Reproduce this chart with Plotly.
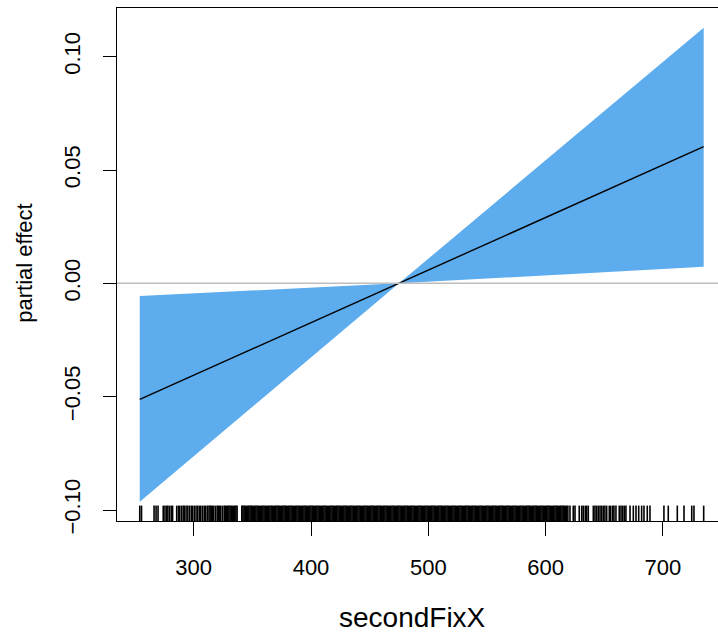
import plotly.graph_objects as go

# Linear smooth term for secondFixX: fitted partial effect and its confidence band
x_fit = [254.0, 475.0, 734.8]
fit = [-0.0512, 0.0, 0.0603]
upper = [-0.0056, 0.0, 0.1128]
lower = [-0.0964, 0.0, 0.0073]

# Axis settings
x_ticks = [300, 400, 500, 600, 700]
y_ticks = [-0.10, -0.05, 0.00, 0.05, 0.10]
y_tick_text = ["\u22120.10", "\u22120.05", "0.00", "0.05", "0.10"]
x_range = [234.6, 747.0]
y_range = [-0.10485, 0.12148]

# Observed secondFixX values shown as a rug along the x axis
rug_left = [
    254.0, 255.5, 266.2, 267.9, 269.6, 274.0, 275.5, 277.0, 278.0, 279.5,
    281.0, 282.0, 285.5, 287.0, 288.0, 289.5, 291.0, 292.0, 293.5, 295.0,
    296.5, 298.0, 299.0, 300.5, 302.0, 303.5, 305.0, 306.0, 307.5, 309.0,
    310.0, 311.5, 313.0, 314.0, 315.0, 316.0, 317.0, 318.5, 320.0, 321.0,
    322.0, 323.0, 324.5, 326.0, 327.0, 328.0, 329.0, 330.0, 331.0, 332.0,
    333.0, 334.0, 335.0, 336.0, 337.0,
]
rug_dense = [
    341, 342, 343, 344, 345, 346, 347, 348, 349, 350, 351, 352, 353, 354, 355,
    356, 357, 358, 359, 360, 361, 362, 363, 364, 365, 366, 367, 368, 369, 370,
    371, 372, 373, 374, 375, 376, 377, 378, 379, 380, 381, 382, 383, 384, 385,
    386, 387, 388, 389, 390, 391, 392, 393, 394, 395, 396, 397, 398, 399, 400,
    401, 402, 403, 404, 405, 406, 407, 408, 409, 410, 411, 412, 413, 414, 415,
    416, 417, 418, 419, 420, 421, 422, 423, 424, 425, 426, 427, 428, 429, 430,
    431, 432, 433, 434, 435, 436, 437, 438, 439, 440, 441, 442, 443, 444, 445,
    446, 447, 448, 449, 450, 451, 452, 453, 454, 455, 456, 457, 458, 459, 460,
    461, 462, 463, 464, 465, 466, 467, 468, 469, 470, 471, 472, 473, 474, 475,
    476, 477, 478, 479, 480, 481, 482, 483, 484, 485, 486, 487, 488, 489, 490,
    491, 492, 493, 494, 495, 496, 497, 498, 499, 500, 501, 502, 503, 504, 505,
    506, 507, 508, 509, 510, 511, 512, 513, 514, 515, 516, 517, 518, 519, 520,
    521, 522, 523, 524, 525, 526, 527, 528, 529, 530, 531, 532, 533, 534, 535,
    536, 537, 538, 539, 540, 541, 542, 543, 544, 545, 546, 547, 548, 549, 550,
    551, 552, 553, 554, 555, 556, 557, 558, 559, 560, 561, 562, 563, 564, 565,
    566, 567, 568, 569, 570, 571, 572, 573, 574, 575, 576, 577, 578, 579, 580,
    581, 582, 583, 584, 585, 586, 587, 588, 589, 590, 591, 592, 593, 594, 595,
    596, 597, 598, 599, 600, 601, 602, 603, 604, 605, 606, 607, 608, 609, 610,
    611, 612, 613, 614, 615, 616, 617, 618, 619,
]
rug_right = [
    620.8, 623.6, 625.1, 628.7, 630.8, 632.1, 633.8, 635.0, 636.4, 640.7,
    642.1, 643.5, 644.9, 646.4, 647.8, 649.2, 650.6, 652.1, 654.3, 655.5,
    657.2, 658.3, 660.0, 662.8, 664.3, 665.7, 667.1, 668.5, 672.0, 674.8,
    677.1, 679.4, 681.9, 683.9, 686.7, 689.0, 700.9, 704.6, 712.3, 718.0,
    724.6, 726.5, 734.8,
]

band_color = "#5CACEE"
font_family = "Liberation Sans, Arial, sans-serif"

fig = go.Figure()

# Confidence band polygon
fig.add_trace(go.Scatter(
    x=x_fit + x_fit[::-1],
    y=upper + lower[::-1],
    fill="toself",
    fillcolor=band_color,
    line=dict(width=0, color=band_color),
    mode="lines",
    hoverinfo="skip",
))

# Reference line at zero effect
fig.add_hline(y=0, line=dict(color="#BEBEBE", width=1.5), layer="above")

# Fitted partial effect
fig.add_trace(go.Scatter(
    x=x_fit, y=fit, mode="lines",
    line=dict(color="black", width=1.4),
    hoverinfo="skip",
))

# Rug ticks: short vertical segments rising from the bottom of the panel
rug_all = rug_left + rug_dense + rug_right
rug_len = 0.03 * (y_range[1] - y_range[0])
rug_x, rug_y = [], []
for v in rug_all:
    rug_x += [v, v, None]
    rug_y += [y_range[0], y_range[0] + rug_len, None]
fig.add_trace(go.Scatter(
    x=rug_x, y=rug_y, mode="lines",
    line=dict(color="black", width=1.6),
    hoverinfo="skip",
    connectgaps=False,
))

fig.update_layout(
    width=718, height=633,
    margin=dict(l=117, r=0, t=8, b=112),
    plot_bgcolor="white", paper_bgcolor="white",
    showlegend=False,
    font=dict(family=font_family, color="black"),
    annotations=[
        dict(text="secondFixX", xref="paper", yref="paper",
             x=(412 - 117) / 601, y=(521 - 617) / 513,
             xanchor="center", yanchor="middle", showarrow=False,
             font=dict(size=28, family=font_family, color="black")),
        dict(text="partial effect", xref="paper", yref="paper",
             x=(25 - 117) / 601, y=0.5014, textangle=-90,
             xanchor="center", yanchor="middle", showarrow=False,
             font=dict(size=22, family=font_family, color="black")),
    ],
)

fig.update_xaxes(
    range=x_range, tickvals=x_ticks,
    ticks="outside", ticklen=14, tickwidth=1, tickcolor="black",
    showline=True, linecolor="black", linewidth=1, mirror=True,
    showgrid=False, zeroline=False,
    tickfont=dict(size=22, family=font_family, color="black"),
    ticklabelstandoff=13,
)
fig.update_yaxes(
    range=y_range, tickvals=y_ticks, ticktext=y_tick_text,
    ticks="outside", ticklen=13, tickwidth=1, tickcolor="black",
    showline=True, linecolor="black", linewidth=1, mirror=False,
    showgrid=False, zeroline=False, tickangle=-90,
    tickfont=dict(size=22, family=font_family, color="black"),
    ticklabelstandoff=14,
)

fig.write_html("out.html")
